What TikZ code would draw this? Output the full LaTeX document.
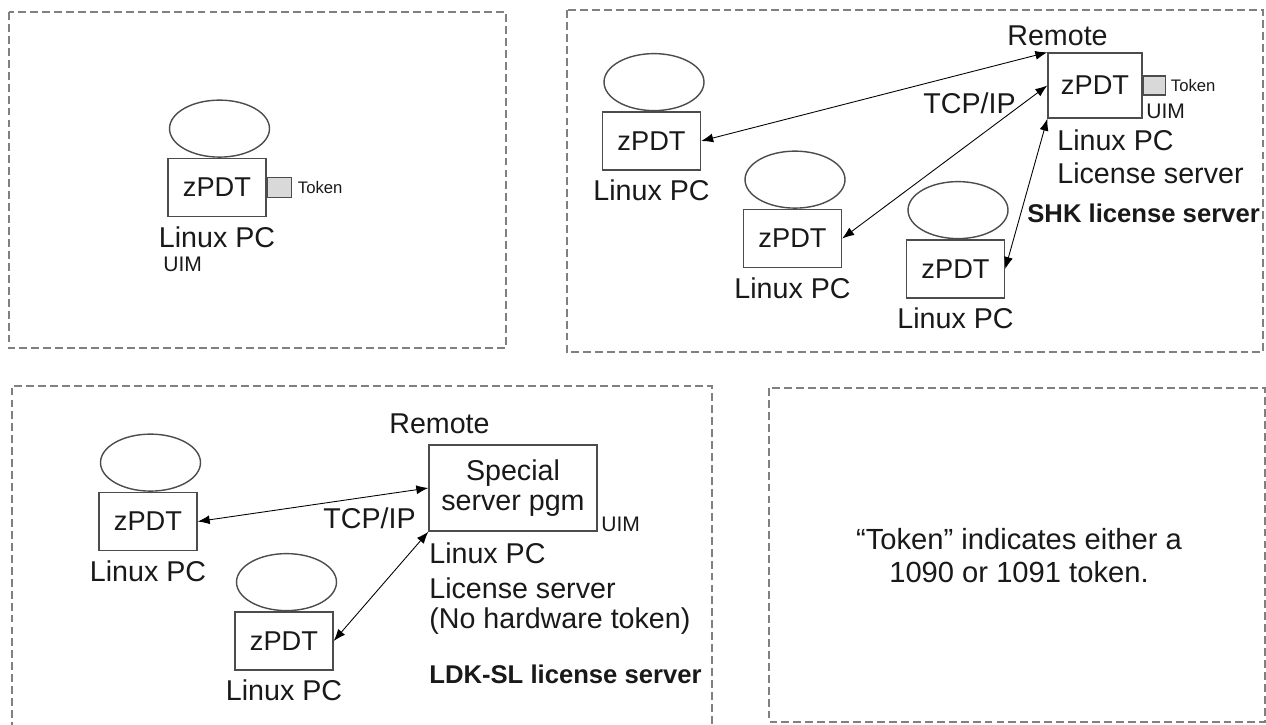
\documentclass[tikz,border=0pt]{standalone}
\usepackage{fontspec}
\setmainfont{Liberation Sans}
\usetikzlibrary{positioning,shapes.geometric,arrows.meta}
\tikzset{
  panel/.style={draw=black!50,line width=1.1pt,dash pattern=on 4.5pt off 2.3pt},
  pcbox/.style={draw=black!70,line width=0.8pt,minimum width=1.96cm,minimum height=1.16cm,inner sep=0pt,font=\fontsize{15.5}{18}\selectfont},
  disk/.style={draw=black!70,line width=0.8pt,ellipse,minimum width=2cm,minimum height=1.14cm,inner sep=0pt},
  tokbox/.style={draw=black!70,line width=0.8pt,fill=black!15,minimum width=0.48cm,minimum height=0.4cm,inner sep=0pt},
  lbl/.style={inner sep=0pt,font=\fontsize{16.3}{19}\selectfont},
  uim/.style={inner sep=0pt,font=\fontsize{12}{14}\selectfont},
  tok/.style={inner sep=0pt,font=\fontsize{9.5}{11}\selectfont},
  boldlbl/.style={inner sep=0pt,font=\fontsize{14.6}{17}\selectfont\bfseries},
  link/.style={{Latex[length=2.4mm,width=1.8mm]}-{Latex[length=2.4mm,width=1.8mm]},line width=0.5pt},
}
\begin{document}
\begin{tikzpicture}[x=0.02cm,y=-0.02cm,text=black!90]
\useasboundingbox (0,0) rectangle (1266,724);
\draw[panel] (9,12) rectangle (506,348);
\draw[panel] (567,10) rectangle (1263,352);
\draw[panel] (12,730) |- (712,386) -- (712,730);
\draw[panel] (769,388) rectangle (1265,722);
% zPDT machines
\foreach \n/\x/\y in {a/217/187.5,b/651.5/141,c/792.5/238.5,d/955.5/269,e/148/521.5,f/284/641}{
  \node[pcbox] (pc\n) at (\x,\y) {zPDT};
  \node[disk,above=0pt of pc\n,xshift=0.05cm] (disk\n) {};
  \node[lbl,below=0.18cm of pc\n] (lin\n) {Linux PC};
}
% local token
\node[tokbox,anchor=west] (toka) at (pca.east) {};
\node[tok,right=0.11cm of toka] (tokla) {Token};
\node[uim,anchor=base west] (uima) at (163,271) {UIM};
% SHK license server
\node[pcbox,minimum width=1.88cm,minimum height=1.3cm] (srv) at (1095,85.5) {zPDT};
\node[tokbox,anchor=west,minimum width=0.44cm,minimum height=0.38cm] (tokb) at (srv.east) {};
\node[tok,right=0.09cm of tokb] (toklb) {Token};
\node[uim,anchor=base west] (uimb) at (1146,118) {UIM};
\node[lbl,anchor=base west] (remb) at (1007,45) {Remote};
\node[lbl,anchor=base west] (tcpb) at (923,113) {TCP/IP};
\node[lbl,anchor=base west] (srvpc) at (1057,150) {Linux PC};
\node[lbl,anchor=base west] (srvls) at (1057,183) {License server};
\node[boldlbl,anchor=base west] (shk) at (1027,222) {SHK license server};
\draw[link] (pcb.east) -- (srv.north west);
\draw[link] (pcc.east) -- (srv.west);
\draw[link] (pcd.east) -- (srv.south west);
% LDK-SL license server
\node[pcbox,minimum width=3.36cm,minimum height=1.72cm,align=center,font=\fontsize{16.3}{17}\selectfont] (spc) at (513,488) {Special\\server pgm};
\node[uim,anchor=base west] (uimc) at (601,531) {UIM};
\node[lbl,anchor=base west] (remc) at (389,433) {Remote};
\node[lbl,anchor=base west] (tcpc) at (323,528) {TCP/IP};
\node[lbl,anchor=base west] (spcpc) at (429,563) {Linux PC};
\node[lbl,anchor=base west] (spcls) at (429,598) {License server};
\node[lbl,anchor=base west] (spcnt) at (429,628) {(No hardware token)};
\node[boldlbl,anchor=base west] (ldk) at (429,683) {LDK-SL license server};
\draw[link] (pce.east) -- (spc.west);
\draw[link] (pcf.east) -- (spc.south west);
% note
\node[lbl,align=center,font=\fontsize{16.6}{18.8}\selectfont] (note) at (1019,556) {“Token” indicates either a\\1090 or 1091 token.};
\end{tikzpicture}
\end{document}
